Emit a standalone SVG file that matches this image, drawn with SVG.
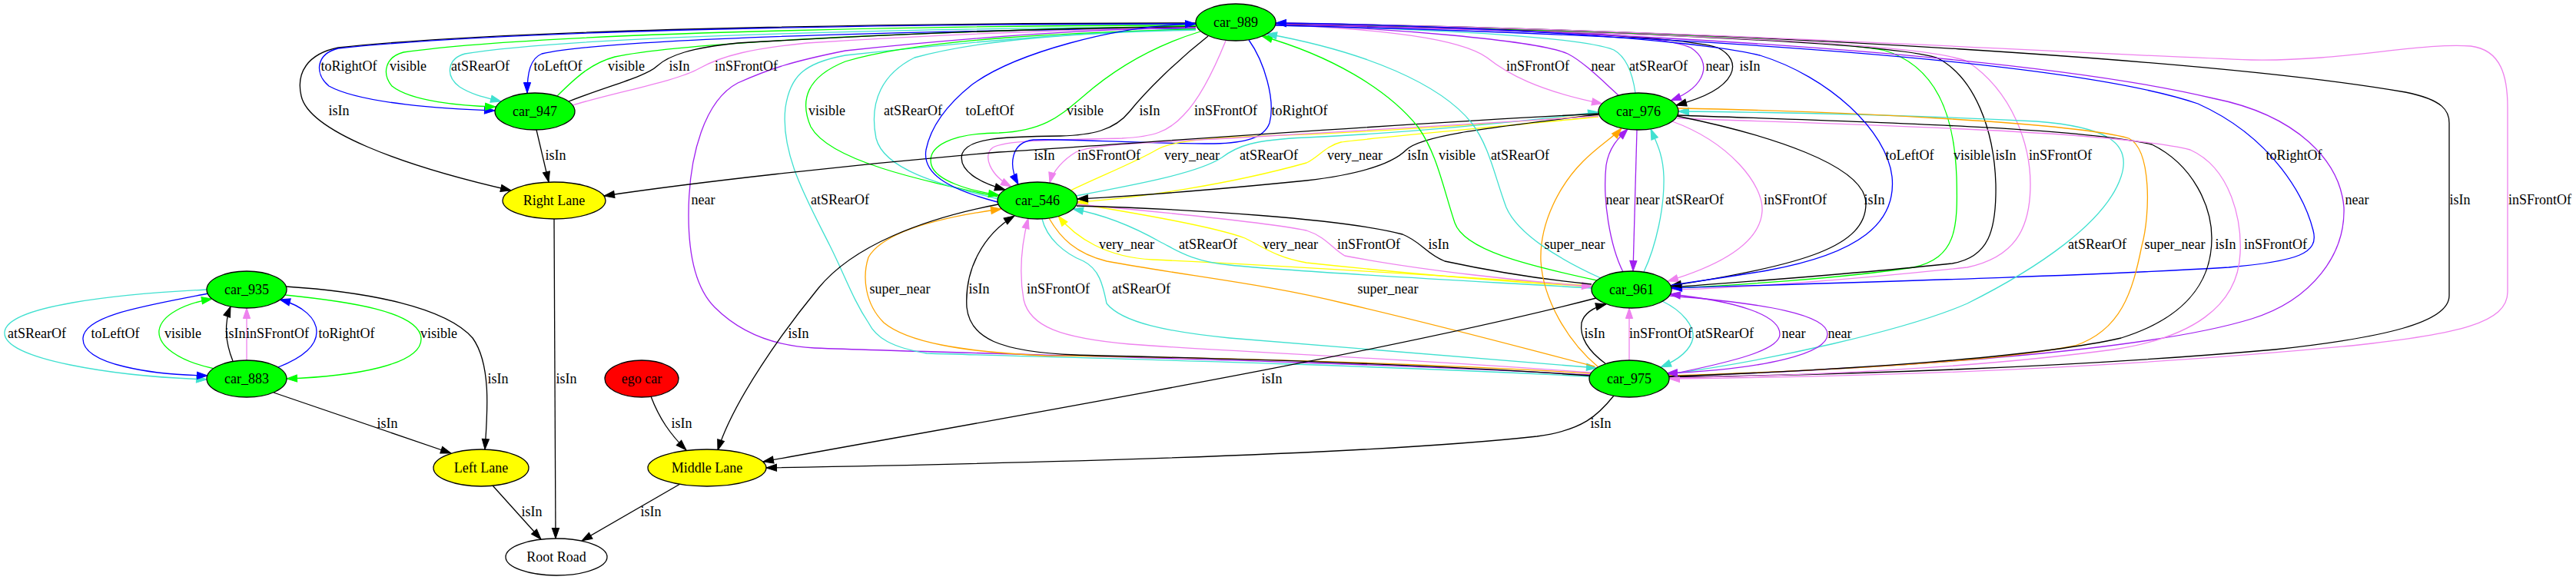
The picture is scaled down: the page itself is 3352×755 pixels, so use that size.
<svg xmlns="http://www.w3.org/2000/svg" width="3352" height="755" viewBox="0 0 3352 755">
<style>
.e{fill:none;stroke-width:1.3}
.k{stroke:#000000}.b{stroke:#0000ff}.g{stroke:#00ff00}.t{stroke:#40e0d0}.v{stroke:#ee82ee}.p{stroke:#a020f0}.y{stroke:#ffff00}.o{stroke:#ffa500}
.lbl{font-family:"Liberation Serif","Times New Roman",serif;font-size:18px;text-anchor:middle;fill:#000}
.n{stroke:#000;stroke-width:1.3}
.car{fill:#00ff00}.lane{fill:#ffff00}.ego{fill:#ff0000}.road{fill:#ffffff}
</style>
<defs>
<marker id="ak" viewBox="0 0 14 10" refX="13.5" refY="5" markerWidth="14" markerHeight="10" markerUnits="userSpaceOnUse" orient="auto" overflow="visible"><path d="M0,0.4 L13.5,5 L0,9.6 z" fill="#000000" stroke="#000000"/></marker>
<marker id="ab" viewBox="0 0 14 10" refX="13.5" refY="5" markerWidth="14" markerHeight="10" markerUnits="userSpaceOnUse" orient="auto" overflow="visible"><path d="M0,0.4 L13.5,5 L0,9.6 z" fill="#0000ff" stroke="#0000ff"/></marker>
<marker id="ag" viewBox="0 0 14 10" refX="13.5" refY="5" markerWidth="14" markerHeight="10" markerUnits="userSpaceOnUse" orient="auto" overflow="visible"><path d="M0,0.4 L13.5,5 L0,9.6 z" fill="#00ff00" stroke="#00ff00"/></marker>
<marker id="at" viewBox="0 0 14 10" refX="13.5" refY="5" markerWidth="14" markerHeight="10" markerUnits="userSpaceOnUse" orient="auto" overflow="visible"><path d="M0,0.4 L13.5,5 L0,9.6 z" fill="#40e0d0" stroke="#40e0d0"/></marker>
<marker id="av" viewBox="0 0 14 10" refX="13.5" refY="5" markerWidth="14" markerHeight="10" markerUnits="userSpaceOnUse" orient="auto" overflow="visible"><path d="M0,0.4 L13.5,5 L0,9.6 z" fill="#ee82ee" stroke="#ee82ee"/></marker>
<marker id="ap" viewBox="0 0 14 10" refX="13.5" refY="5" markerWidth="14" markerHeight="10" markerUnits="userSpaceOnUse" orient="auto" overflow="visible"><path d="M0,0.4 L13.5,5 L0,9.6 z" fill="#a020f0" stroke="#a020f0"/></marker>
<marker id="ay" viewBox="0 0 14 10" refX="13.5" refY="5" markerWidth="14" markerHeight="10" markerUnits="userSpaceOnUse" orient="auto" overflow="visible"><path d="M0,0.4 L13.5,5 L0,9.6 z" fill="#ffff00" stroke="#ffff00"/></marker>
<marker id="ao" viewBox="0 0 14 10" refX="13.5" refY="5" markerWidth="14" markerHeight="10" markerUnits="userSpaceOnUse" orient="auto" overflow="visible"><path d="M0,0.4 L13.5,5 L0,9.6 z" fill="#ffa500" stroke="#ffa500"/></marker>
</defs>
<rect x="0" y="0" width="3352" height="755" fill="#ffffff"/>
<g id="connectors">
<path class="e k" marker-end="url(#ak)" d="M1556,30 C1300,30 700,34 440,62 C400,70 385,95 392,125 C402,170 520,215 665,248"/>
<path class="e b" marker-end="url(#ab)" d="M1556,31 C1300,31 700,35 440,63 C412,70 408,95 428,112 C470,135 580,142 644,144"/>
<path class="e g" marker-end="url(#ag)" d="M1556,33 C1300,33 720,40 525,68 C502,74 496,95 510,112 C535,132 600,138 645,139"/>
<path class="e t" marker-end="url(#at)" d="M1556,35 C1300,36 760,44 605,70 C583,76 578,98 598,113 C613,123 632,127 652,132"/>
<path class="e b" marker-end="url(#ab)" d="M1556,37 C1300,38 800,48 705,70 C690,76 686,95 686,121"/>
<path class="e g" d="M725,125 C750,100 770,82 800,74 C900,52 1300,38 1556,34"/>
<path class="e k" d="M740,132 C790,112 840,100 855,86 C870,72 900,62 960,56 C1200,42 1400,36 1556,35"/>
<path class="e v" d="M745,137 C800,120 880,106 910,89 C940,72 980,63 1050,56 C1250,43 1450,37 1556,36"/>
<path class="e k" marker-end="url(#ak)" d="M698,169 L714,237"/>
<path class="e p" d="M2069,488 C1700,468 1300,462 1060,453 C1000,450 960,430 930,400 C905,375 896,330 896,280 C896,200 918,130 960,108 C1000,90 1030,80 1100,66 C1300,45 1450,37 1556,36"/>
<path class="e t" d="M2069,490 C1700,472 1400,466 1206,460 C1160,452 1140,440 1130,420 C1110,390 1100,360 1080,320 C1050,260 1015,200 1022,140 C1028,100 1045,82 1100,72 C1300,50 1450,40 1556,38"/>
<path class="e g" d="M1298,256 C1200,235 1080,210 1055,165 C1040,130 1050,100 1100,80 C1200,50 1400,42 1556,38"/>
<path class="e t" d="M1299,259 C1220,240 1150,220 1140,180 C1130,130 1150,95 1190,75 C1280,50 1420,42 1556,39"/>
<path class="e g" marker-end="url(#ag)" d="M1562,41 C1500,60 1450,90 1410,125 C1380,150 1360,170 1300,173 C1240,173 1205,190 1212,215 C1218,235 1260,248 1300,254"/>
<path class="e k" marker-end="url(#ak)" d="M1572,47 C1530,80 1490,120 1470,145 C1450,170 1420,176 1380,177 C1300,178 1260,180 1252,200 C1246,222 1275,238 1308,247"/>
<path class="e v" marker-end="url(#av)" d="M1595,53 C1580,90 1560,130 1540,150 C1520,172 1500,178 1460,180 C1380,182 1310,182 1292,192 C1278,202 1288,228 1316,243"/>
<path class="e b" marker-end="url(#ab)" d="M1625,52 C1645,80 1660,130 1652,160 C1645,180 1620,186 1580,187 C1480,187 1380,180 1345,182 C1315,185 1312,215 1325,240"/>
<path class="e v" marker-end="url(#av)" d="M1660,32 C1800,38 1900,50 1935,75 C1960,95 2000,118 2085,135"/>
<path class="e p" d="M2106,124 C2085,105 2060,80 2040,70 C2000,52 1800,36 1660,32"/>
<path class="e t" d="M2128,121 C2125,100 2118,75 2100,65 C2050,45 1800,36 1660,33"/>
<path class="e p" marker-end="url(#ap)" d="M1660,30 C1900,35 2150,40 2200,62 C2228,80 2222,112 2174,131"/>
<path class="e k" marker-end="url(#ak)" d="M1660,31 C1900,36 2180,45 2235,62 C2268,78 2265,115 2181,137"/>
<path class="e g" d="M1660,31 C2000,38 2350,48 2450,65 C2520,85 2543,150 2546,230 C2548,300 2545,335 2490,348 C2400,362 2250,372 2175,375"/>
<path class="e k" d="M2175,374 C2250,368 2400,358 2540,343 C2588,335 2598,300 2597,240 C2595,170 2570,100 2520,75 C2450,55 2100,40 1660,32"/>
<path class="e v" d="M1660,33 C2150,42 2500,55 2560,80 C2620,120 2642,190 2642,240 C2642,300 2620,335 2560,348 C2400,365 2250,376 2175,377"/>
<path class="e b" marker-end="url(#ab)" d="M1660,33 C2200,45 2700,80 2860,135 C2960,180 3000,260 3010,300 C3018,330 2990,340 2900,348 C2700,360 2400,368 2175,375"/>
<path class="e p" d="M2172,490 C2500,478 2800,455 2930,415 C3010,390 3052,330 3050,270 C3045,210 2990,150 2880,128 C2700,85 2300,45 1660,31"/>
<path class="e k" d="M2172,491 C2400,488 2700,478 2960,455 C3100,440 3187,420 3187,385 L3187,160 C3187,145 3180,130 3130,120 C2900,80 2300,40 1660,30"/>
<path class="e v" marker-end="url(#av)" d="M1660,30 C2200,38 2700,70 2930,78 C3050,80 3150,55 3215,60 C3255,65 3263,100 3263,140 L3263,380 C3263,420 3200,435 3060,450 C2800,475 2500,490 2172,493"/>
<path class="e t" marker-end="url(#at)" d="M2171,487 C2300,470 2480,430 2560,395 C2650,350 2740,290 2760,230 C2775,185 2740,165 2650,158 C2450,148 2300,146 2184,145"/>
<path class="e o" d="M2184,141 C2400,145 2700,160 2770,180 C2800,195 2798,280 2787,320 C2775,380 2760,430 2700,450 C2600,470 2400,482 2172,489"/>
<path class="e k" d="M2183,150 C2400,158 2700,165 2800,188 C2855,215 2878,270 2878,310 C2878,370 2840,415 2760,440 C2650,465 2400,482 2172,490"/>
<path class="e v" d="M2182,154 C2400,162 2750,170 2850,195 C2905,220 2917,290 2915,330 C2912,400 2850,440 2750,455 C2600,475 2400,488 2172,492"/>
<path class="e p" marker-end="url(#ap)" d="M2112,354 C2095,320 2085,260 2090,215 C2094,190 2108,178 2118,168"/>
<path class="e p" marker-end="url(#ap)" d="M2130,169 L2125,353"/>
<path class="e t" marker-end="url(#at)" d="M2139,354 C2155,320 2166,270 2165,230 C2164,200 2155,185 2148,168"/>
<path class="e v" marker-end="url(#av)" d="M2176,158 C2250,185 2295,240 2293,275 C2290,320 2230,348 2170,366"/>
<path class="e k" marker-end="url(#ak)" d="M2182,151 C2300,175 2428,215 2428,265 C2428,320 2350,345 2174,372"/>
<path class="e k" marker-end="url(#ak)" d="M2090,474 C2068,458 2055,440 2058,420 C2062,406 2078,399 2090,396"/>
<path class="e v" marker-end="url(#av)" d="M2120,469 L2120,401"/>
<path class="e t" marker-end="url(#at)" d="M2163,392 C2190,405 2205,425 2203,440 C2200,455 2185,468 2161,478"/>
<path class="e p" marker-end="url(#ap)" d="M2170,488 C2260,470 2316,455 2316,435 C2316,410 2260,392 2173,383"/>
<path class="e p" marker-end="url(#ap)" d="M2172,385 C2300,395 2378,410 2378,435 C2378,460 2300,480 2169,486"/>
<path class="e y" d="M1393,248 C1430,230 1480,210 1505,195 C1530,180 1600,178 1700,175 C1850,168 1980,158 2080,150"/>
<path class="e t" marker-end="url(#at)" d="M1400,255 C1480,240 1560,225 1590,205 C1610,190 1630,182 1700,179 C1850,172 1980,158 2080,146"/>
<path class="e y" marker-end="url(#ay)" d="M2080,152 C1950,165 1780,180 1745,185 C1725,190 1715,205 1700,212 C1600,240 1480,258 1402,263"/>
<path class="e k" marker-end="url(#ak)" d="M2080,149 C1950,165 1850,175 1830,195 C1810,215 1760,228 1700,235 C1600,245 1480,255 1402,259"/>
<path class="e v" marker-end="url(#av)" d="M2080,151 C1900,163 1700,175 1600,180 C1500,185 1420,188 1400,198 C1385,207 1370,222 1366,238"/>
<path class="e k" marker-end="url(#ak)" d="M2080,148 C1800,162 1500,185 1300,198 C1100,215 900,238 786,255"/>
<path class="e y" marker-end="url(#ay)" d="M2071,372 C1900,360 1650,345 1500,338 C1440,335 1400,310 1377,281"/>
<path class="e t" marker-end="url(#at)" d="M2071,375 C1900,365 1700,355 1600,345 C1550,340 1530,325 1510,315 C1480,298 1440,280 1396,272"/>
<path class="e y" d="M1402,265 C1480,278 1580,295 1620,310 C1645,322 1660,335 1700,342 C1850,358 1980,368 2071,373"/>
<path class="e v" marker-end="url(#av)" d="M1402,266 C1500,275 1650,290 1700,300 C1725,308 1735,325 1750,333 C1850,352 1980,366 2072,373"/>
<path class="e k" d="M1401,268 C1550,272 1750,285 1825,305 C1850,315 1855,330 1880,340 C1950,355 2020,365 2071,370"/>
<path class="e o" marker-end="url(#ao)" d="M2070,486 C1800,470 1500,464 1360,463 C1250,458 1180,445 1150,420 C1125,395 1122,360 1130,335 C1150,300 1230,282 1303,272"/>
<path class="e k" marker-end="url(#ak)" d="M2069,489 C1800,470 1500,465 1400,462 C1300,458 1262,440 1258,400 C1255,350 1280,305 1320,281"/>
<path class="e v" marker-end="url(#av)" d="M2071,485 C1800,465 1600,458 1470,448 C1380,440 1340,425 1332,390 C1325,350 1330,315 1338,284"/>
<path class="e t" marker-end="url(#at)" d="M1356,285 C1362,310 1385,330 1410,340 C1430,350 1435,370 1440,395 C1460,420 1520,432 1600,440 C1800,455 1950,468 2078,479"/>
<path class="e o" d="M1365,284 C1380,310 1400,330 1440,340 C1550,360 1650,370 1750,395 C1900,430 2000,458 2075,477"/>
<path class="e o" marker-end="url(#ao)" d="M2080,478 C2040,445 2008,390 2005,340 C2003,290 2030,240 2060,210 C2080,190 2100,178 2110,167"/>
<path class="e g" marker-end="url(#ag)" d="M2078,365 C1985,345 1905,325 1893,290 C1878,245 1870,200 1845,165 C1805,115 1730,72 1642,47"/>
<path class="e t" marker-end="url(#at)" d="M2083,362 C2030,338 1975,305 1960,270 C1945,230 1938,190 1915,160 C1875,110 1780,68 1648,44"/>
<path class="e k" marker-end="url(#ak)" d="M1299,266 C1200,285 1110,320 1065,375 C1020,430 955,520 934,586"/>
<path class="e k" marker-end="url(#ak)" d="M847,516 C858,545 872,565 893,586"/>
<path class="e k" marker-end="url(#ak)" d="M2077,388 C1800,460 1300,545 993,601"/>
<path class="e k" marker-end="url(#ak)" d="M2100,515 C2080,540 2060,560 2000,568 C1800,590 1400,602 997,609"/>
<path class="e t" marker-end="url(#at)" d="M269,377 C150,383 10,398 6,432 C2,468 150,490 269,494"/>
<path class="e b" marker-end="url(#ab)" d="M271,382 C190,398 110,410 108,440 C106,475 200,488 270,489"/>
<path class="e g" marker-end="url(#ag)" d="M279,480 C232,470 205,450 207,430 C210,410 240,395 276,389"/>
<path class="e k" marker-end="url(#ak)" d="M303,470 C295,450 290,425 300,399"/>
<path class="e v" marker-end="url(#av)" d="M321,469 L321,401"/>
<path class="e b" marker-end="url(#ab)" d="M362,478 C395,465 412,450 412,432 C412,415 395,398 364,390"/>
<path class="e g" marker-end="url(#ag)" d="M371,384 C450,392 545,405 548,440 C550,475 460,490 373,493"/>
<path class="e k" marker-end="url(#ak)" d="M372,373 C480,380 580,400 615,440 C640,475 634,540 631,585"/>
<path class="e k" marker-end="url(#ak)" d="M356,511 L587,590"/>
<path class="e k" marker-end="url(#ak)" d="M721,285 L723,701"/>
<path class="e k" marker-end="url(#ak)" d="M641,632 L704,702"/>
<path class="e k" marker-end="url(#ak)" d="M885,630 L757,704"/>
<path class="e b" marker-end="url(#ab)" d="M1298,263 C1230,245 1200,225 1205,195 C1212,160 1240,130 1265,110 C1320,70 1450,33 1556,31"/>
<path class="e b" marker-end="url(#ab)" d="M2175,371 C2210,366 2240,362 2300,352 C2420,330 2468,290 2462,230 C2455,170 2380,100 2290,72 C2200,50 1900,32 1660,30"/>
</g>
<g id="edge-labels" class="lbl">
<text x="454" y="92">toRightOf</text><text x="531" y="92">visible</text><text x="625" y="92">atSRearOf</text><text x="726" y="92">toLeftOf</text><text x="815" y="92">visible</text><text x="884" y="92">isIn</text><text x="971" y="92">inSFrontOf</text>
<text x="2001" y="92">inSFrontOf</text><text x="2086" y="92">near</text><text x="2158" y="92">atSRearOf</text><text x="2235" y="92">near</text><text x="2277" y="92">isIn</text>
<text x="441" y="150">isIn</text><text x="1076" y="150">visible</text><text x="1188" y="150">atSRearOf</text><text x="1288" y="150">toLeftOf</text><text x="1412" y="150">visible</text><text x="1496" y="150">isIn</text><text x="1595" y="150">inSFrontOf</text><text x="1691" y="150">toRightOf</text>
<text x="723" y="208">isIn</text><text x="1359" y="208">isIn</text><text x="1443" y="208">inSFrontOf</text><text x="1551" y="208">very_near</text><text x="1651" y="208">atSRearOf</text><text x="1763" y="208">very_near</text><text x="1845" y="208">isIn</text><text x="1896" y="208">visible</text><text x="1978" y="208">atSRearOf</text><text x="2485" y="208">toLeftOf</text><text x="2566" y="208">visible</text><text x="2610" y="208">isIn</text><text x="2681" y="208">inSFrontOf</text><text x="2985" y="208">toRightOf</text>
<text x="915" y="266">near</text><text x="1093" y="266">atSRearOf</text><text x="2105" y="266">near</text><text x="2144" y="266">near</text><text x="2205" y="266">atSRearOf</text><text x="2336" y="266">inSFrontOf</text><text x="2439" y="266">isIn</text><text x="3067" y="266">near</text><text x="3201" y="266">isIn</text><text x="3305" y="266">inSFrontOf</text>
<text x="1466" y="324">very_near</text><text x="1572" y="324">atSRearOf</text><text x="1679" y="324">very_near</text><text x="1781" y="324">inSFrontOf</text><text x="1872" y="324">isIn</text><text x="2049" y="324">super_near</text><text x="2729" y="324">atSRearOf</text><text x="2830" y="324">super_near</text><text x="2896" y="324">isIn</text><text x="2961" y="324">inSFrontOf</text>
<text x="1171" y="382">super_near</text><text x="1274" y="382">isIn</text><text x="1377" y="382">inSFrontOf</text><text x="1485" y="382">atSRearOf</text><text x="1806" y="382">super_near</text>
<text x="48" y="440">atSRearOf</text><text x="150" y="440">toLeftOf</text><text x="238" y="440">visible</text><text x="306" y="440">isIn</text><text x="361" y="440">inSFrontOf</text><text x="451" y="440">toRightOf</text><text x="571" y="440">visible</text><text x="1039" y="440">isIn</text><text x="2075" y="440">isIn</text><text x="2161" y="440">inSFrontOf</text><text x="2244" y="440">atSRearOf</text><text x="2334" y="440">near</text><text x="2394" y="440">near</text>
<text x="648" y="499">isIn</text><text x="737" y="499">isIn</text><text x="1655" y="499">isIn</text>
<text x="504" y="557">isIn</text><text x="887" y="557">isIn</text><text x="2083" y="557">isIn</text>
<text x="692" y="672">isIn</text><text x="847" y="672">isIn</text>
</g>
<g id="node-car_989"><ellipse class="n car" cx="1608" cy="29" rx="52" ry="24"/><text class="lbl" x="1608" y="35">car_989</text></g>
<g id="node-car_947"><ellipse class="n car" cx="696" cy="145" rx="52" ry="24"/><text class="lbl" x="696" y="151">car_947</text></g>
<g id="node-car_976"><ellipse class="n car" cx="2132" cy="145" rx="52" ry="24"/><text class="lbl" x="2132" y="151">car_976</text></g>
<g id="node-right_lane"><ellipse class="n lane" cx="721" cy="261" rx="67" ry="24"/><text class="lbl" x="721" y="267">Right Lane</text></g>
<g id="node-car_546"><ellipse class="n car" cx="1350" cy="261" rx="52" ry="24"/><text class="lbl" x="1350" y="267">car_546</text></g>
<g id="node-car_935"><ellipse class="n car" cx="321" cy="377" rx="52" ry="24"/><text class="lbl" x="321" y="383">car_935</text></g>
<g id="node-car_961"><ellipse class="n car" cx="2123" cy="377" rx="52" ry="24"/><text class="lbl" x="2123" y="383">car_961</text></g>
<g id="node-car_883"><ellipse class="n car" cx="321" cy="493" rx="52" ry="24"/><text class="lbl" x="321" y="499">car_883</text></g>
<g id="node-ego_car"><ellipse class="n ego" cx="835" cy="493" rx="48" ry="24"/><text class="lbl" x="835" y="499">ego car</text></g>
<g id="node-car_975"><ellipse class="n car" cx="2120" cy="493" rx="52" ry="24"/><text class="lbl" x="2120" y="499">car_975</text></g>
<g id="node-left_lane"><ellipse class="n lane" cx="626" cy="609" rx="62" ry="24"/><text class="lbl" x="626" y="615">Left Lane</text></g>
<g id="node-middle_lane"><ellipse class="n lane" cx="920" cy="609" rx="77" ry="24"/><text class="lbl" x="920" y="615">Middle Lane</text></g>
<g id="node-root_road"><ellipse class="n road" cx="724" cy="725" rx="66" ry="24"/><text class="lbl" x="724" y="731">Root Road</text></g>
</svg>
